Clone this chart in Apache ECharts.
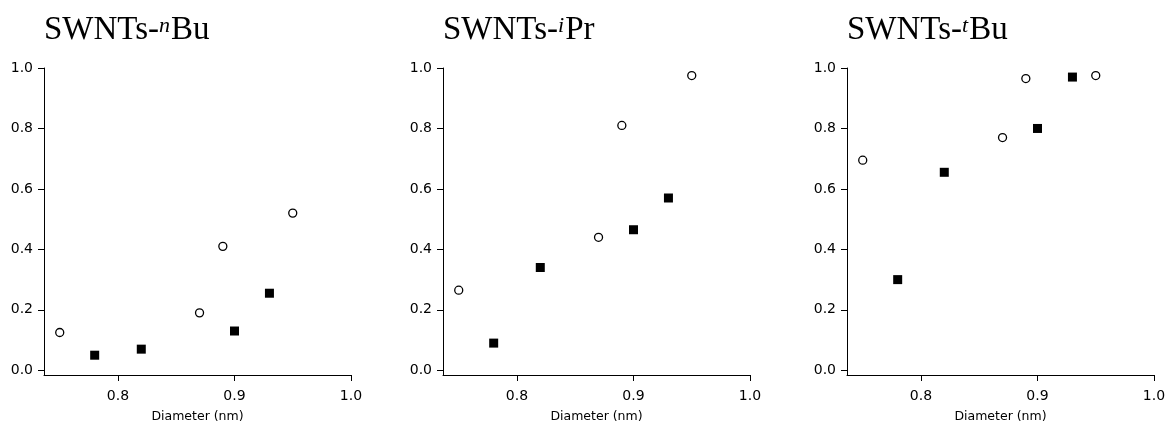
<!DOCTYPE html>
<html>
<head>
<meta charset="utf-8">
<script src="https://cdn.jsdelivr.net/npm/echarts@6/dist/echarts.min.js"></script>
<style>
html,body{margin:0;padding:0;background:#fff;}
#c{width:1165px;height:423px;}
</style>
</head>
<body>
<div id="c"></div>
<script>
// Data
const diameterCircles = [0.75, 0.87, 0.89, 0.95];
const diameterSquares = [0.78, 0.82, 0.90, 0.93];
const nBuCircles = [0.125, 0.19, 0.41, 0.52];
const nBuSquares = [0.05, 0.07, 0.13, 0.255];
const iPrCircles = [0.265, 0.44, 0.81, 0.975];
const iPrSquares = [0.09, 0.34, 0.465, 0.57];
const tBuCircles = [0.695, 0.77, 0.965, 0.975];
const tBuSquares = [0.30, 0.655, 0.80, 0.97];
const xTicks = [0.8, 0.9, 1.0];
const yTicks = [0.0, 0.2, 0.4, 0.6, 0.8, 1.0];
const titlePrefix = 'SWNTs-';
const titleSup = ['n', 'i', 't'];
const titleSuffix = ['Bu', 'Pr', 'Bu'];
const xName = 'Diameter (nm)';

const panels = [
  {c: nBuCircles, s: nBuSquares},
  {c: iPrCircles, s: iPrSquares},
  {c: tBuCircles, s: tBuSquares}
];
const gridLefts = [44, 443, 847];
const gridWidth = 307;
const gridTop = 68;
const gridHeight = 307;

const chart = echarts.init(document.getElementById('c'));
const pair = (xs, ys) => xs.map((x, i) => [x, ys[i]]);

const option = {
  animation: false,
  backgroundColor: '#fff',
  title: panels.map((p, i) => ({
    text: '{a|' + titlePrefix + '}{s|' + titleSup[i] + '}{a|' + titleSuffix[i] + '}',
    left: gridLefts[i],
    top: 11,
    padding: 0,
    textStyle: {
      fontWeight: 'normal',
      rich: {
        a: {fontFamily: 'Liberation Serif', fontWeight: 'normal', fontSize: 33, color: '#000', verticalAlign: 'bottom', lineHeight: 36},
        s: {fontFamily: 'Liberation Serif', fontWeight: 'normal', fontStyle: 'italic', fontSize: 22, color: '#000', verticalAlign: 'top', lineHeight: 24, padding: [4, 1, 0, 0]}
      }
    }
  })),
  grid: panels.map((p, i) => ({
    left: gridLefts[i], top: gridTop, width: gridWidth, height: gridHeight,
    containLabel: false, outerBoundsMode: 'none'
  })),
  xAxis: panels.map((p, i) => ({
    type: 'value', gridIndex: i, min: 0.7365, max: 1.0,
    name: xName, nameLocation: 'middle', nameGap: 35,
    nameTextStyle: {fontFamily: 'DejaVu Sans', fontSize: 12.5, color: '#000'},
    axisLine: {show: true, onZero: false, lineStyle: {color: '#000', width: 1}},
    axisTick: {show: true, length: 6, customValues: xTicks, lineStyle: {color: '#000'}},
    axisLabel: {show: true, margin: 14, customValues: xTicks, fontFamily: 'DejaVu Sans', fontSize: 14, color: '#000',
      formatter: v => v.toFixed(1)},
    splitLine: {show: false}
  })),
  yAxis: panels.map((p, i) => ({
    type: 'value', gridIndex: i, min: -0.0155, max: 1.0,
    axisLine: {show: true, onZero: false, lineStyle: {color: '#000', width: 1}},
    axisTick: {show: true, length: 6, customValues: yTicks, lineStyle: {color: '#000'}},
    axisLabel: {show: true, margin: 11, customValues: yTicks, fontFamily: 'DejaVu Sans', fontSize: 14, color: '#000',
      formatter: v => v.toFixed(1)},
    splitLine: {show: false}
  })),
  series: []
};

panels.forEach((p, i) => {
  option.series.push({
    type: 'scatter', xAxisIndex: i, yAxisIndex: i,
    symbol: 'circle', symbolSize: 8,
    itemStyle: {color: '#fff', borderColor: '#000', borderWidth: 1.3, opacity: 1},
    data: pair(diameterCircles, p.c)
  });
  option.series.push({
    type: 'scatter', xAxisIndex: i, yAxisIndex: i,
    symbol: 'rect', symbolSize: 9,
    itemStyle: {color: '#000', opacity: 1},
    data: pair(diameterSquares, p.s)
  });
});

chart.setOption(option);
</script>
</body>
</html>
